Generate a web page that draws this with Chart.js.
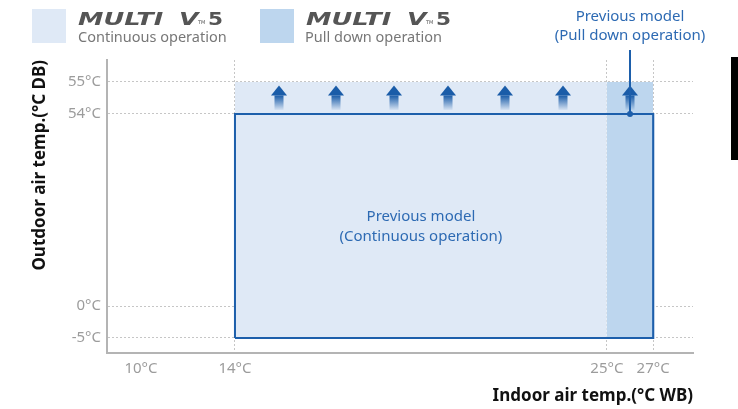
<!DOCTYPE html>
<html>
<head>
<meta charset="utf-8">
<script src="https://cdn.jsdelivr.net/npm/chart.js@4/dist/chart.umd.min.js"></script>
<style>
  html, body { margin: 0; padding: 0; background: #fff; }
  #wrap { position: relative; width: 738px; height: 409px; overflow: hidden; font-family: "Noto Sans", sans-serif; }
  #wrap canvas { position: absolute; left: 0; top: 0; }
  .swatch { position: absolute; top: 9px; width: 34px; height: 34px; }
  .logo { position: absolute; top: 10px; color: #555; font-family: "DejaVu Sans", sans-serif; font-weight: bold; font-style: italic; font-size: 18px; line-height: 18px; white-space: nowrap; transform-origin: 0 0; }
  .tm { position: absolute; top: 20px; color: #555; font-family: "DejaVu Sans", sans-serif; font-size: 5px; line-height: 5px; }
  .five { position: absolute; top: 10px; color: #555; font-family: "DejaVu Sans", sans-serif; font-weight: bold; font-size: 18px; line-height: 18px; transform: scaleX(1.2); transform-origin: 0 0; }
  .sub { position: absolute; top: 29px; color: #777; font-size: 14.5px; line-height: 15px; white-space: nowrap; }
  #edge { position: absolute; left: 731px; top: 57px; width: 7px; height: 103px; background: #000; }
</style>
</head>
<body>
<div id="wrap">
  <canvas id="range-chart" width="738" height="409"></canvas>

  <div class="swatch" style="left:32px; background:#dfe9f6;"></div>
  <span class="logo" style="left:78px; transform:scaleX(1.42);">MULTI</span>
  <span class="logo" style="left:179px; transform:scaleX(1.4);">V</span>
  <span class="tm" style="left:198px;">TM</span>
  <span class="five" style="left:208px;">5</span>
  <span class="sub" style="left:78px;">Continuous operation</span>

  <div class="swatch" style="left:260px; background:#bdd6ee;"></div>
  <span class="logo" style="left:306px; transform:scaleX(1.42);">MULTI</span>
  <span class="logo" style="left:407px; transform:scaleX(1.4);">V</span>
  <span class="tm" style="left:426px;">TM</span>
  <span class="five" style="left:436px;">5</span>
  <span class="sub" style="left:305px;">Pull down operation</span>

  <div id="edge"></div>
</div>

<script>
// axis ticks (°C)
const xTicks = [10, 14, 25, 27];
const yTicks = [-5, 0, 54, 55];

// MULTI V 5 operating range
const outdoorFloor = -5;
const v5OutdoorMax = 55;
const v5ContinuousIndoor = [14, 25];
const v5PullDownIndoor = [25, 27];

// previous model
const prevContinuousIndoor = [14, 27];
const prevContinuousOutdoor = [-5, 54];
const prevPullDown = [26, 54]; // indoor WB, outdoor DB

// extension arrows (indoor WB positions)
const arrowIndoor = [15.3, 17, 18.7, 20.3, 22, 23.7, 26];

// the axes are not to scale: each one is a broken line through these knots
// [value, fraction of the axis length]
const axisKnots = {
    x: [[9, 0], [10, 0.058], [14, 0.2184], [25, 0.853], [27, 0.932], [28.7, 1]],
    y: [[-7.3, 0], [-5, 0.0512], [0, 0.1604], [54, 0.8157], [55, 0.925], [55.7, 1]],
};

function interp(knots, v) {
    let i = 1;
    while (i < knots.length - 1 && v > knots[i][0]) i++;
    const [a0, f0] = knots[i - 1];
    const [a1, f1] = knots[i];
    return f0 + (v - a0) * (f1 - f0) / (a1 - a0);
}

class BrokenScale extends Chart.LinearScale {
    static id = "broken";
    static defaults = Chart.LinearScale.defaults;
    getPixelForValue(value) {
        const f = interp(axisKnots[this.axis], value);
        return this.isHorizontal() ? this.left + f * this.width : this.bottom - f * this.height;
    }
    getValueForPixel(pixel) {
        const f = this.isHorizontal() ? (pixel - this.left) / this.width : (this.bottom - pixel) / this.height;
        return interp(axisKnots[this.axis].map(([a, b]) => [b, a]), f);
    }
}
Chart.register(BrokenScale);

const BLUE = "#1d5fab";
const TEXT_BLUE = "#2d6ab3";
const GRID = "#c6c6c6";
const AXIS = "#b4b4b4";
const TICK = "#9c9c9c";

const band = (xs, top) => xs.map(x => ({ x: x, y: top }));
const box = (xs, ys) => [
    { x: xs[0], y: ys[0] }, { x: xs[0], y: ys[1] },
    { x: xs[1], y: ys[1] }, { x: xs[1], y: ys[0] },
    { x: xs[0], y: ys[0] },
];

const overlay = {
    id: "overlay",
    afterDraw(chart) {
        const ctx = chart.ctx;
        const sx = chart.scales.x;
        const sy = chart.scales.y;

        // previous model outline sits above the grid
        chart.getDatasetMeta(2).dataset.draw(ctx, chart.chartArea);

        // arrows from 54 up to 55
        const top = sy.getPixelForValue(v5OutdoorMax) + 3.5;
        const bottom = sy.getPixelForValue(prevContinuousOutdoor[1]) - 4;
        arrowIndoor.forEach(t => {
            const x = Math.round(sx.getPixelForValue(t));
            const headH = 10, headW = 16, shaftW = 9;
            ctx.save();
            ctx.fillStyle = "#1a5ca8";
            ctx.beginPath();
            ctx.moveTo(x, top);
            ctx.lineTo(x + headW / 2, top + headH);
            ctx.lineTo(x - headW / 2, top + headH);
            ctx.closePath();
            ctx.fill();
            const g = ctx.createLinearGradient(0, top + headH, 0, bottom);
            g.addColorStop(0, "rgba(26,92,168,1)");
            g.addColorStop(1, "rgba(26,92,168,0.05)");
            ctx.fillStyle = g;
            ctx.fillRect(x - shaftW / 2, top + headH, shaftW, bottom - top - headH);
            ctx.restore();
        });

        // previous model pull down marker
        const px = Math.round(sx.getPixelForValue(prevPullDown[0]));
        const py = sy.getPixelForValue(prevPullDown[1]);
        ctx.save();
        ctx.strokeStyle = BLUE;
        ctx.lineWidth = 2;
        ctx.beginPath();
        ctx.moveTo(px, 50);
        ctx.lineTo(px, py);
        ctx.stroke();
        ctx.fillStyle = BLUE;
        ctx.beginPath();
        ctx.arc(px, py, 3, 0, Math.PI * 2);
        ctx.fill();

        ctx.font = '15px "Noto Sans"';
        ctx.fillStyle = TEXT_BLUE;
        ctx.textAlign = "center";
        ctx.textBaseline = "alphabetic";
        ctx.fillText("Previous model", px, 20.5);
        ctx.fillText("(Pull down operation)", px, 39.5);

        const cx = (sx.getPixelForValue(v5ContinuousIndoor[0]) + sx.getPixelForValue(v5ContinuousIndoor[1])) / 2;
        const cy = (sy.getPixelForValue(0) + sy.getPixelForValue(prevContinuousOutdoor[1])) / 2;
        ctx.fillText("Previous model", cx, cy + 11);
        ctx.fillText("(Continuous operation)", cx, cy + 31);
        ctx.restore();
    },
};

new Chart(document.querySelector("#range-chart"), {
    type: "line",
    data: {
        datasets: [
            {
                data: band(v5ContinuousIndoor, v5OutdoorMax),
                backgroundColor: "#dfe9f6",
                borderWidth: 0,
                pointRadius: 0,
                fill: { value: outdoorFloor },
            },
            {
                data: band(v5PullDownIndoor, v5OutdoorMax),
                backgroundColor: "#bdd6ee",
                borderWidth: 0,
                pointRadius: 0,
                fill: { value: outdoorFloor },
            },
            {
                data: box(prevContinuousIndoor, prevContinuousOutdoor),
                borderColor: BLUE,
                borderWidth: 2,
                borderJoinStyle: "miter",
                pointRadius: 0,
                fill: false,
            },
        ],
    },
    options: {
        responsive: false,
        animation: false,
        events: [],
        layout: { padding: { top: 60, right: 45, left: 0, bottom: 0 } },
        plugins: { legend: { display: false }, tooltip: { enabled: false } },
        scales: {
            x: {
                type: "broken",
                min: 9,
                max: 28.7,
                z: 1,
                afterBuildTicks: s => { s.ticks = xTicks.map(v => ({ value: v })); },
                afterFit: s => { s.height = 56; },
                ticks: {
                    padding: 7,
                    color: TICK,
                    font: { family: "Noto Sans", size: 15 },
                    callback: v => v + "°C",
                    maxRotation: 0,
                    autoSkip: false,
                },
                grid: {
                    color: ctx => (ctx.tick && ctx.tick.value === 10 ? "rgba(0,0,0,0)" : GRID),
                    lineWidth: 1,
                    drawTicks: false,
                },
                border: { color: AXIS, width: 2, dash: [2, 2] },
                title: {
                    display: true,
                    text: "Indoor air temp.(°C WB)",
                    align: "end",
                    color: "#111",
                    font: { family: "Noto Sans", size: 17, weight: "bold" },
                    padding: { top: 0, bottom: 3 },
                },
            },
            y: {
                type: "broken",
                min: -7.3,
                max: 55.7,
                z: 1,
                afterBuildTicks: s => { s.ticks = yTicks.map(v => ({ value: v })); },
                afterFit: s => { s.width = 107; },
                ticks: {
                    padding: 6,
                    color: TICK,
                    font: { family: "Noto Sans", size: 15 },
                    callback: v => v + "°C",
                    autoSkip: false,
                },
                grid: { color: GRID, lineWidth: 1, drawTicks: false },
                border: { color: AXIS, width: 2, dash: [2, 2] },
                title: {
                    display: true,
                    text: "Outdoor air temp.(°C DB)",
                    align: "end",
                    color: "#111",
                    font: { family: "Noto Sans", size: 17, weight: "bold" },
                    padding: { top: 30, bottom: 0 },
                },
            },
        },
    },
    plugins: [overlay],
});
</script>
</body>
</html>
